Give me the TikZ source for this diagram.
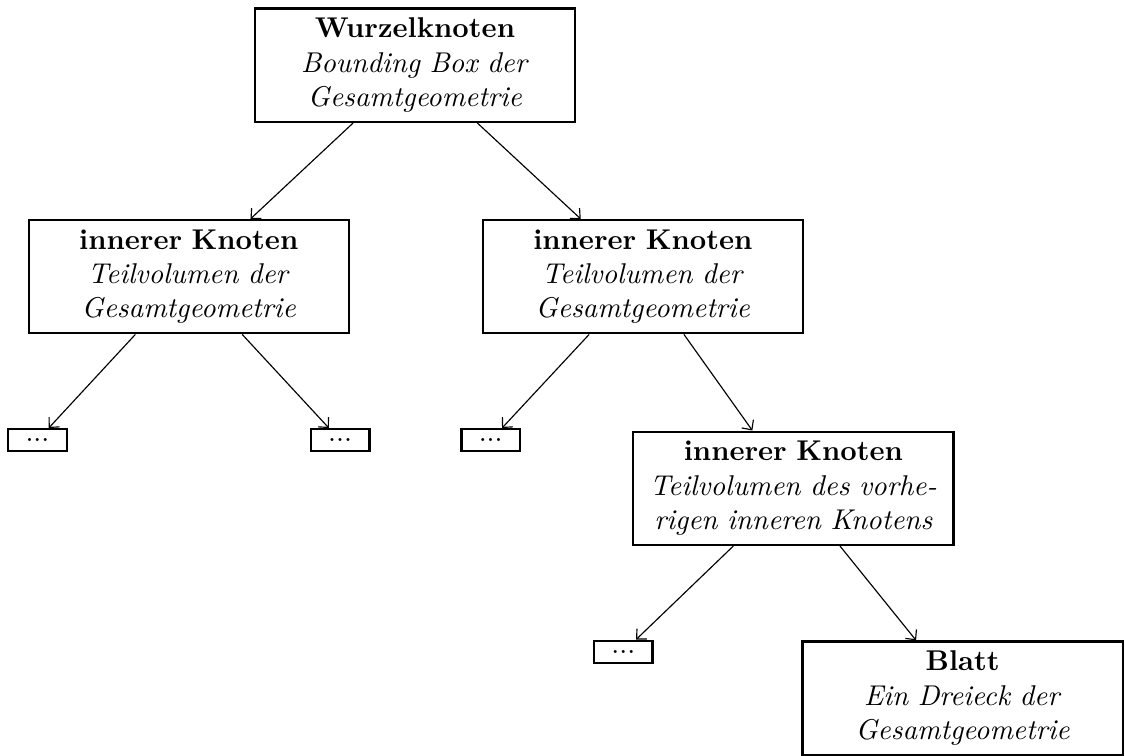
\documentclass[tikz,border=0pt]{standalone}
\usepackage{amsmath,amssymb}
\usepackage{tikz}
\usetikzlibrary{arrows.meta}

\begin{document}
\begin{tikzpicture}[
    knoten/.style={draw,thick,text width=3.7cm,align=center},
    leer/.style={draw,thick,minimum width=0.72cm},
    kante/.style={-{Straight Barb[length=2.6pt,width=5pt]}}]
        \useasboundingbox (0,0) rectangle (13.825,-9.29);
        % Wurzel und erste Ebene
        \node[knoten] (wurzel) at (5.10,-0.80)
          {\textbf{Wurzelknoten}\\ \textit{Bounding Box der}\\ \textit{Gesamtgeometrie}};
        \node[knoten] (innenL) at (2.32,-3.40)
          {\textbf{innerer Knoten}\\ \textit{Teilvolumen der}\\ \textit{Gesamtgeometrie}};
        \node[knoten] (innenR) at (7.90,-3.40)
          {\textbf{innerer Knoten}\\ \textit{Teilvolumen der}\\ \textit{Gesamtgeometrie}};
        % zweite Ebene
        \node[leer] (leerLL) at (0.46,-5.41) {...};
        \node[leer] (leerLR) at (4.18,-5.41) {...};
        \node[leer] (leerRL) at (6.03,-5.41) {...};
        \node[knoten] (innenRR) at (9.75,-6.00)
          {\textbf{innerer Knoten}\\ \textit{Teilvolumen des vorhe-}\\ \textit{rigen inneren Knotens}};
        % Blattebene
        \node[leer] (leerRRL) at (7.66,-8.01) {...};
        \node[knoten] (blatt) at (11.83,-8.58)
          {\textbf{Blatt}\\ \textit{Ein Dreieck der}\\ \textit{Gesamtgeometrie}};
        \draw[kante] (wurzel) -- (innenL);
        \draw[kante] (wurzel) -- (innenR);
        \draw[kante] (innenL) -- (leerLL);
        \draw[kante] (innenL) -- (leerLR);
        \draw[kante] (innenR) -- (leerRL);
        \draw[kante] (innenR) -- (innenRR);
        \draw[kante] (innenRR) -- (leerRRL);
        \draw[kante] (innenRR) -- (blatt);
      \end{tikzpicture}
\end{document}
